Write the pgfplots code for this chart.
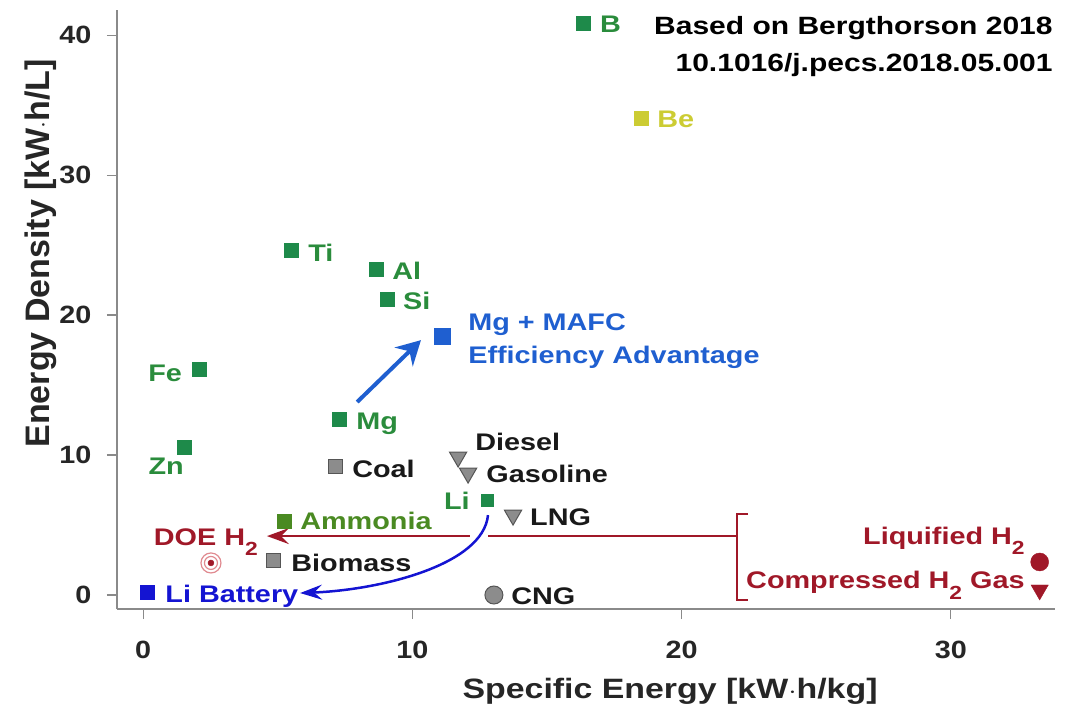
\documentclass[border=0pt]{standalone}
\usepackage{pgfplots}
\pgfplotsset{compat=1.18}
\usepackage{fontspec}
\setmainfont{Liberation Sans}
\usetikzlibrary{arrows.meta}
\definecolor{mgreen}{HTML}{1E8A4A}
\definecolor{tgreen}{HTML}{2A8C3C}
\definecolor{agreen}{HTML}{4A8A22}
\definecolor{mblue}{HTML}{1F5FD0}
\definecolor{bblue}{HTML}{1414D2}
\definecolor{dred}{HTML}{A01828}
\definecolor{pred}{HTML}{E08A90}
\definecolor{myel}{HTML}{CCCC33}
\definecolor{mgray}{HTML}{8C8C8C}
\definecolor{egray}{HTML}{555555}
\definecolor{axgray}{HTML}{8A8A8A}
\newcommand{\ft}{\fontsize{24}{33}\selectfont\bfseries}
\newcommand{\sub}[1]{\raisebox{-0.45em}{\fontsize{19}{19}\selectfont #1}}
\begin{document}
\begin{tikzpicture}
\path[use as bounding box] (-117pt,-95pt) rectangle (962pt,609pt);
\begin{axis}[
  scale only axis, width=938pt, height=599pt,
  xmin=-0.97, xmax=33.87, ymin=-1.0, ymax=41.8,
  axis x line*=bottom, axis y line*=left,
  axis line style={axgray, line width=1.5pt},
  xtick={0,10,20,30}, ytick={0,10,20,30,40},
  tick align=outside, major tick length=10pt,
  tick style={axgray, line width=1.2pt},
  /pgf/number format/assume math mode=true,
  ticklabel style={font=\fontsize{25}{25}\selectfont\bfseries, text=black!85, xscale=1.15},
  xticklabel style={yshift=-19pt},
  yticklabel style={xshift=-10pt},
  xlabel={Specific Energy [kW$\cdot$h/kg]},
  ylabel={Energy Density [kW$\cdot$h/L]},
  xlabel style={font=\fontsize{28}{28}\selectfont\bfseries, text=black!85, xscale=1.21, at={(axis description cs:0.5896,-0.137)}, anchor=center},
  ylabel style={font=\fontsize{34}{34}\selectfont\bfseries, text=black!85, at={(axis description cs:-0.081,0.594)}, anchor=center},
  clip=false,
]
% green metals
\addplot[only marks, mark=square*, mark size=7pt, color=mgreen] coordinates {
 (16.34,40.86) (5.50,24.64) (8.65,23.29) (9.06,21.14) (2.08,16.14) (1.52,10.57) (7.28,12.57)};
\addplot[only marks, mark=square*, mark size=6pt, color=mgreen] coordinates {(12.77,6.79)};
\addplot[only marks, mark=square*, mark size=7pt, color=agreen] coordinates {(5.24,5.29)};
\addplot[only marks, mark=square*, mark size=7pt, color=myel] coordinates {(18.49,34.07)};
\addplot[only marks, mark=square*, mark size=8pt, color=mblue] coordinates {(11.10,18.50)};
\addplot[only marks, mark=square*, mark size=7pt, color=bblue] coordinates {(0.15,0.21)};
% gray fuels
\addplot[only marks, mark=square*, mark size=7pt, draw=egray, fill=mgray, line width=1pt] coordinates {(7.13,9.21) (4.86,2.43)};
\addplot[only marks, mark=triangle*, mark size=10pt, mark options={rotate=180}, draw=egray, fill=mgray, line width=1pt] coordinates {(11.70,9.86) (12.07,8.71) (13.74,5.71)};
\addplot[only marks, mark=*, mark size=9pt, draw=egray, fill=mgray, line width=1pt] coordinates {(13.03,0.0)};
% hydrogen
\addplot[only marks, mark=*, mark size=9pt, color=dred] coordinates {(33.3,2.36)};
\addplot[only marks, mark=triangle*, mark size=10pt, mark options={rotate=180}, color=dred] coordinates {(33.3,0.36)};
\addplot[only marks, mark=o, mark size=10pt, color=pred, line width=1.2pt] coordinates {(2.52,2.29)};
\addplot[only marks, mark=o, mark size=6.5pt, color=pred, line width=1.2pt] coordinates {(2.52,2.29)};
\addplot[only marks, mark=*, mark size=3pt, color=dred] coordinates {(2.52,2.29)};
% arrows
\draw[mblue, line width=4pt, -{Stealth[length=24pt,width=26pt,inset=8pt]}] (axis cs:7.95,13.79) -- (axis cs:10.32,18.21);
\draw[dred, line width=2.5pt] (axis cs:22.06,4.21) -- (axis cs:12.81,4.21);
\draw[dred, line width=2.5pt, -{Stealth[length=22pt,width=16pt,inset=8pt]}] (axis cs:12.14,4.21) -- (axis cs:4.6,4.21);
\draw[dred, line width=2.5pt] (axis cs:22.47,5.79) -- (axis cs:22.06,5.79) -- (axis cs:22.06,-0.36) -- (axis cs:22.47,-0.36);
\draw[bblue, line width=2.5pt, -{Stealth[length=22pt,width=15pt,inset=8pt]}] (axis cs:12.81,5.71) .. controls (axis cs:12.63,2.14) and (axis cs:8.80,0.36) .. (axis cs:5.83,0.14);
% labels
\begin{scope}[every node/.style={font=\ft, inner sep=0pt, xscale=1.2}]
\node[tgreen, anchor=base west] at (axis cs:16.97,40.21) {B};
\node[myel, anchor=base west] at (axis cs:19.09,33.43) {Be};
\node[tgreen, anchor=base west] at (axis cs:6.13,23.86) {Ti};
\node[tgreen, anchor=base west] at (axis cs:9.25,22.57) {Al};
\node[tgreen, anchor=base west] at (axis cs:9.65,20.43) {Si};
\node[mblue, anchor=base west] at (axis cs:12.07,18.93) {Mg + MAFC};
\node[mblue, anchor=base west] at (axis cs:12.07,16.57) {Efficiency Advantage};
\node[tgreen, anchor=base east] at (axis cs:1.45,15.29) {Fe};
\node[tgreen, anchor=base east] at (axis cs:1.52,8.64) {Zn};
\node[tgreen, anchor=base west] at (axis cs:7.91,11.79) {Mg};
\node[black!90, anchor=base west] at (axis cs:7.76,8.43) {Coal};
\node[black!90, anchor=base west] at (axis cs:12.33,10.36) {Diesel};
\node[black!90, anchor=base west] at (axis cs:12.74,8.07) {Gasoline};
\node[tgreen, anchor=base east] at (axis cs:12.14,6.14) {Li};
\node[black!90, anchor=base west] at (axis cs:14.37,5.0) {LNG};
\node[agreen, anchor=base west] at (axis cs:5.83,4.71) {Ammonia};
\node[dred, anchor=base east] at (axis cs:4.27,3.57) {DOE H\sub{2}};
\node[black!90, anchor=base west] at (axis cs:5.50,1.71) {Biomass};
\node[bblue, anchor=base west] at (axis cs:0.82,-0.5) {Li Battery};
\node[black!90, anchor=base west] at (axis cs:13.67,-0.71) {CNG};
\node[dred, anchor=base east] at (axis cs:32.75,3.64) {Liquified H\sub{2}};
\node[dred, anchor=base east] at (axis cs:32.75,0.43) {Compressed H\sub{2} Gas};
\node[black, anchor=base east, font=\fontsize{25}{30}\selectfont\bfseries] at (axis cs:33.79,40.07) {Based on Bergthorson 2018};
\node[black, anchor=base east, font=\fontsize{25}{30}\selectfont\bfseries] at (axis cs:33.79,37.43) {10.1016/j.pecs.2018.05.001};
\end{scope}
\end{axis}
\end{tikzpicture}
\end{document}
